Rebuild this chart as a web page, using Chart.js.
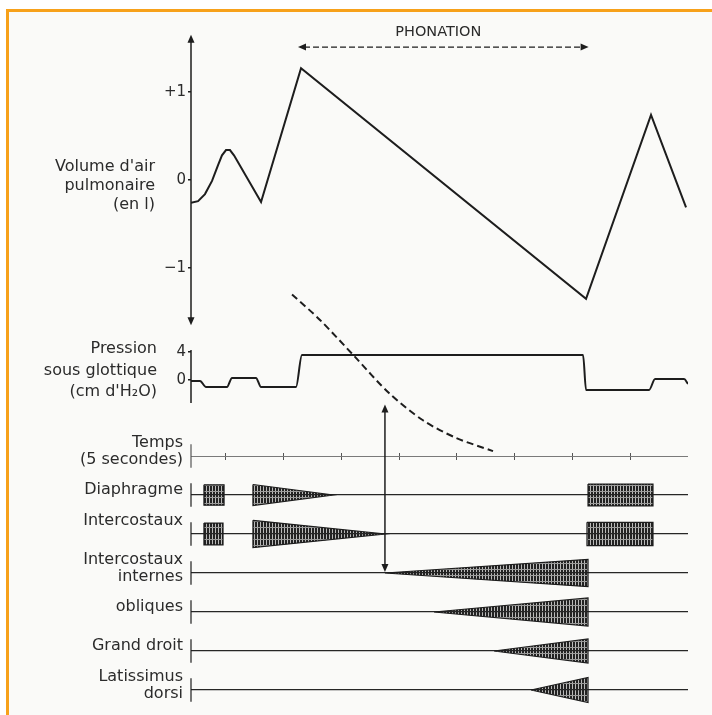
<!DOCTYPE html>
<html lang="fr">
<head>
<meta charset="utf-8">
<title>Phonation</title>
<script src="https://cdn.jsdelivr.net/npm/chart.js@4.4.1/dist/chart.umd.min.js"></script>
<style>
  html, body { margin: 0; padding: 0; background: #fff; }
  #frame { position: absolute; left: 6px; top: 9px; width: 706px; height: 706px; box-sizing: border-box;
    border-left: 3px solid #f7a11a; border-top: 3px solid #f7a11a; background: #fafaf8; }
  #wrap { position: absolute; left: 0; top: 0; width: 712px; height: 715px; }
</style>
</head>
<body>
<div id="frame"></div>
<div id="wrap"><canvas id="chart"></canvas></div>
<script>
// time in seconds, volume in litres, pressure in cm H2O
const volumeTime = [2.0, 2.61, 3.21, 3.82, 4.34, 4.68, 5.03, 5.37, 5.72, 8.06, 11.52, 36.18, 41.8, 44.83];
const volumeValues = [-0.26, -0.24, -0.16, -0.01, 0.17, 0.28, 0.34, 0.34, 0.28, -0.25, 1.27, -1.35, 0.74, -0.31];
const pressureTime = [2.0, 2.78, 3.3, 5.11, 5.55, 7.62, 8.06, 11.08, 11.6, 35.92, 36.18, 41.63, 42.15, 44.66, 45.0];
const pressureValues = [-0.15, -0.15, -1.0, -1.0, 0.3, 0.3, -1.0, -1.0, 3.57, 3.57, -1.43, -1.43, 0.14, 0.14, -0.57];
const limitTime = [10.74, 13.16, 16.19, 19.13, 22.07, 24.93, 28.13];
const limitValues = [-1.30, -1.59, -2.01, -2.42, -2.73, -2.93, -3.08];

const timeTicks = [5, 10, 15, 20, 25, 30, 35, 40];
const volumeTicks = [-1, 0, 1];
const pressureTicks = [0, 4];
const rowLabels = [['Temps', '(5 secondes)'], 'Diaphragme', ['Intercostaux', ''], ['Intercostaux', 'internes'],
  'obliques', 'Grand droit', ['Latissimus', 'dorsi']];

// muscle activity: row, start, end, half height at start, half height at end
const bursts = [
  [1, 3.12, 4.86, 0.26, 0.26],
  [1, 7.36, 14.29, 0.27, 0],
  [1, 36.35, 41.97, 0.28, 0.28],
  [2, 3.12, 4.77, 0.28, 0.28],
  [2, 7.36, 18.78, 0.35, 0],
  [2, 36.26, 41.97, 0.30, 0.30],
  [3, 18.78, 36.35, 0, 0.35],
  [4, 23.02, 36.35, 0, 0.36],
  [5, 28.22, 36.35, 0, 0.31],
  [6, 31.42, 36.35, 0, 0.32]
];
const phonation = [11.26, 36.4];
const markTime = 18.78;

const INK = '#1d1d1d';
Chart.defaults.font.family = "'DejaVu Sans', sans-serif";
Chart.defaults.color = '#2b2b2b';

function points(xs, ys) {
    return xs.map((t, i) => ({x: t, y: ys[i]}));
}

function hatch() {
    let c = document.createElement('canvas');
    c.width = 3;
    c.height = 6;
    let g = c.getContext('2d');
    g.fillStyle = '#222';
    g.fillRect(0, 0, 2, 5);
    g.fillStyle = 'rgba(40,40,40,0.3)';
    g.fillRect(2, 0, 1, 5);
    g.fillStyle = 'rgba(40,40,40,0.45)';
    g.fillRect(0, 5, 3, 1);
    return g.createPattern(c, 'repeat');
}

function head(ctx, x, y, dx, dy) {
    const L = 8, W = 3.5;
    ctx.beginPath();
    ctx.moveTo(x, y);
    ctx.lineTo(x - dx * L - dy * W, y - dy * L + dx * W);
    ctx.lineTo(x - dx * L + dy * W, y - dy * L - dx * W);
    ctx.closePath();
    ctx.fill();
}

function segment(ctx, x1, y1, x2, y2) {
    ctx.beginPath();
    ctx.moveTo(x1, y1);
    ctx.lineTo(x2, y2);
    ctx.stroke();
}

function lines(ctx, texts, x, y0, step) {
    texts.forEach((t, i) => ctx.fillText(t, x, y0 + i * step));
}

const extras = {
    id: 'extras',
    afterDatasetsDraw(chart) {
        const {ctx, chartArea} = chart;
        const {x, vol, pres, rows} = chart.scales;
        const ax = chartArea.left;
        ctx.save();
        ctx.strokeStyle = INK;
        ctx.fillStyle = INK;
        ctx.lineWidth = 1.5;

        // volume axis with arrows
        let top = vol.getPixelForValue(1.65), bot = vol.getPixelForValue(-1.65);
        segment(ctx, ax, top + 4, ax, bot - 4);
        head(ctx, ax, top, 0, -1);
        head(ctx, ax, bot, 0, 1);

        // pressure axis
        segment(ctx, ax, pres.getPixelForValue(4.3), ax, pres.getPixelForValue(-3.3));

        // row bars
        rowLabels.forEach((_, i) => {
            ctx.strokeStyle = i === 0 ? '#555' : INK;
            ctx.lineWidth = 1.2;
            segment(ctx, ax, rows.getPixelForValue(i - 0.3), ax, rows.getPixelForValue(i + 0.3));
        });

        // phonation arrow
        ctx.strokeStyle = INK;
        ctx.lineWidth = 1.4;
        let py = vol.getPixelForValue(1.51);
        let x1 = x.getPixelForValue(phonation[0]), x2 = x.getPixelForValue(phonation[1]);
        ctx.setLineDash([6, 3]);
        segment(ctx, x1 + 6, py, x2 - 6, py);
        ctx.setLineDash([]);
        head(ctx, x1, py, -1, 0);
        head(ctx, x2, py, 1, 0);
        ctx.font = "14.5px 'DejaVu Sans'";
        ctx.textAlign = 'center';
        ctx.textBaseline = 'middle';
        ctx.fillStyle = '#2b2b2b';
        ctx.fillText('PHONATION', (x1 + x2) / 2 - 5, py - 15);

        // onset arrow
        ctx.fillStyle = INK;
        ctx.lineWidth = 1.5;
        let mx = x.getPixelForValue(markTime);
        let ya = pres.getPixelForValue(-3.5), yb = rows.getPixelForValue(3) - 1;
        segment(ctx, mx, ya + 5, mx, yb - 5);
        head(ctx, mx, ya, 0, -1);
        head(ctx, mx, yb, 0, 1);

        // left titles
        ctx.fillStyle = '#2b2b2b';
        ctx.font = "16px 'DejaVu Sans'";
        ctx.textAlign = 'right';
        lines(ctx, ["Volume d'air", 'pulmonaire', '(en l)'], ax - 36, vol.getPixelForValue(0) - 13, 19);
        lines(ctx, ['Pression', 'sous glottique', "(cm d'H₂O)"], ax - 34, pres.getPixelForValue(0) - 31, 21.5);
        ctx.restore();
    }
};

function leftAxis(opts) {
    return Object.assign({
        type: 'linear',
        axis: 'y',
        position: 'left',
        stack: 'left',
        border: {display: false},
        afterFit: s => { s.width = 175; s.paddingTop = 0; s.paddingBottom = 0; }
    }, opts);
}

const pattern = hatch();
const datasets = [
    {data: points(volumeTime, volumeValues), yAxisID: 'vol', borderColor: INK, borderWidth: 2},
    {data: points(pressureTime, pressureValues), yAxisID: 'pres', borderColor: INK, borderWidth: 2,
        cubicInterpolationMode: 'monotone'},
    {data: points(limitTime, limitValues), yAxisID: 'vol', borderColor: INK, borderWidth: 2,
        borderDash: [7, 4], tension: 0.3, clip: false}
];
for (let b of bursts) {
    let [row, t0, t1, h0, h1] = b;
    datasets.push({
        data: [{x: t0, y: row - h0}, {x: t1, y: row - h1}, {x: t1, y: row + h1}, {x: t0, y: row + h0}, {x: t0, y: row - h0}],
        yAxisID: 'rows', borderColor: INK, borderWidth: 1.2, fill: 'shape', backgroundColor: pattern
    });
}
datasets.forEach(d => { d.pointRadius = 0; d.fill = d.fill || false; });

new Chart(document.getElementById('chart'), {
    type: 'line',
    data: {datasets: datasets},
    options: {
        responsive: true,
        maintainAspectRatio: false,
        animation: false,
        layout: {padding: {left: 16, right: 24, top: 22, bottom: 3}},
        plugins: {legend: {display: false}, tooltip: {enabled: false}},
        scales: {
            x: {
                type: 'linear', axis: 'x', min: 2, max: 45,
                position: {rows: -0.08},
                ticks: {display: false},
                afterBuildTicks: s => { s.ticks = timeTicks.map(v => ({value: v})); },
                afterFit: s => { s.paddingLeft = 0; s.paddingRight = 0; },
                grid: {drawOnChartArea: false, drawTicks: true, tickLength: 7, color: '#555', lineWidth: 1},
                border: {display: false}
            },
            vol: leftAxis({
                weight: 3, stackWeight: 313, min: -1.761, max: 1.795,
                afterBuildTicks: s => { s.ticks = volumeTicks.map(v => ({value: v})); },
                ticks: {font: {size: 15}, padding: 2, autoSkip: false,
                    callback: v => v > 0 ? '+' + v : (v < 0 ? '\u2212' + (-v) : '' + v)},
                grid: {drawOnChartArea: false, tickLength: 3, color: INK, lineWidth: 1.5}
            }),
            pres: leftAxis({
                weight: 2, stackWeight: 87, min: -6.0, max: 6.43,
                afterBuildTicks: s => { s.ticks = pressureTicks.map(v => ({value: v})); },
                ticks: {font: {size: 15}, padding: 2, autoSkip: false},
                grid: {drawOnChartArea: false, tickLength: 3, color: INK, lineWidth: 1.5}
            }),
            rows: leftAxis({
                weight: 1, stackWeight: 290, min: -0.872, max: 6.564, reverse: true,
                afterBuildTicks: s => { s.ticks = rowLabels.map((_, i) => ({value: i})); },
                ticks: {font: {size: 16, lineHeight: 1.05}, padding: 8, labelOffset: -5, autoSkip: false,
                    callback: (v, i) => rowLabels[i]},
                grid: {drawTicks: false, color: c => c.index === 0 ? '#7a7a7a' : '#262626',
                    lineWidth: c => c.index === 0 ? 1 : 1.3}
            })
        }
    },
    plugins: [extras]
});
</script>
</body>
</html>
